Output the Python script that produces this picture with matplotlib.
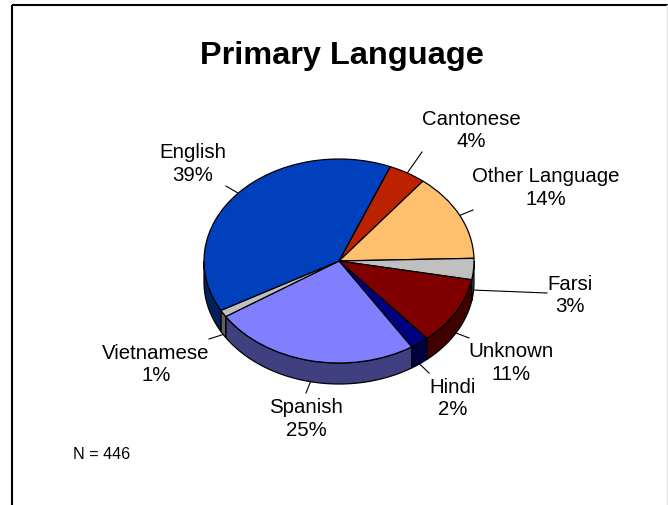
import numpy as np
import matplotlib
matplotlib.use("Agg")
import matplotlib.pyplot as plt
from matplotlib.patches import Polygon

plt.rcParams['font.family'] = ['Liberation Sans', 'DejaVu Sans']

languages = ["Cantonese", "Other Language", "Farsi", "Unknown", "Hindi", "Spanish", "Vietnamese", "English"]
counts = [20, 62, 15, 48, 10, 111, 5, 175]
top_colors = ["#BD2200", "#FFC06E", "#C0C0C0", "#800000", "#000080", "#8080FF", "#C0C0C0", "#0040BD"]
side_colors = ["#5E1100", "#806037", "#606060", "#400000", "#000040", "#404080", "#606060", "#002060"]

label_x = [471, 546, 570, 511.5, 453, 306, 156, 193]
label_y = [130.5, 188, 295.5, 363, 398.5, 419, 364.5, 164]
leader_end_x = [422, 473, 547, 469, 429, 306, 209, 226]
leader_end_y = [153, 211, 294, 339, 374, 394, 340, 187]

W, H = 668, 506
cx, cy, rx, ry, depth = 339, 262, 135, 102, 21
start = 90 - 22.3

fig = plt.figure(figsize=(W / 100, H / 100), dpi=100)

# overlay in pixel coordinates for text, leaders and the frame
over = fig.add_axes([0, 0, 1, 1], zorder=3)
over.set_xlim(0, W)
over.set_ylim(H, 0)
over.axis("off")

ax = fig.add_axes([(cx - rx) / W, (H - cy - ry) / H, 2 * rx / W, 2 * ry / H], zorder=2)
wedges, _ = ax.pie(counts, colors=top_colors, startangle=start, counterclock=False, radius=1,
                   wedgeprops=dict(edgecolor="black", linewidth=0.9, clip_on=False))
ax.set_aspect("auto")
ax.set_xlim(-1, 1)
ax.set_ylim(-1, 1)

# the rim of the disc, only for the part of each slice facing down
d = depth / ry
for w, c in zip(wedges, side_colors):
    lo = w.theta1 % 360
    hi = lo + (w.theta2 - w.theta1)
    lo, hi = max(lo, 180), min(hi, 360)
    if lo >= hi:
        continue
    th = np.radians(np.linspace(lo, hi, 60))
    xs = np.cos(th)
    ys = np.sin(th)
    pts = np.vstack([np.c_[xs, ys], np.c_[xs[::-1], ys[::-1] - d]])
    ax.add_patch(Polygon(pts, closed=True, facecolor=c, edgecolor="black", linewidth=0.9,
                         clip_on=False, zorder=0))

# labels and leaders
total = sum(counts)
for w, name, n, lx, ly, ex, ey in zip(wedges, languages, counts, label_x, label_y, leader_end_x, leader_end_y):
    mid = np.radians((w.theta1 + w.theta2) / 2)
    sx = cx + rx * np.cos(mid)
    sy = cy - ry * np.sin(mid)
    if np.sin(mid) < 0:
        sy += depth
    over.plot([sx, ex], [sy, ey], color="black", lw=0.8)
    over.text(lx, ly, "%s\n%d%%" % (name, round(100 * n / total)), ha="center", va="center",
              fontsize=14.7, linespacing=1.26, color="black")

over.text(341.5, 56, "Primary Language", ha="center", va="center", fontsize=23.4, fontweight="bold")
over.text(73, 455, "N = 446", ha="left", va="center", fontsize=11.6)

# slide frame
over.plot([12, 12], [H, 6], color="black", lw=1.5, solid_capstyle="butt")
over.plot([11.5, W], [6, 6], color="black", lw=1.5, solid_capstyle="butt")
over.plot([667.3, 667.3], [6, H], color="#E6E6E6", lw=1)

fig.savefig("out.png", dpi=100)
